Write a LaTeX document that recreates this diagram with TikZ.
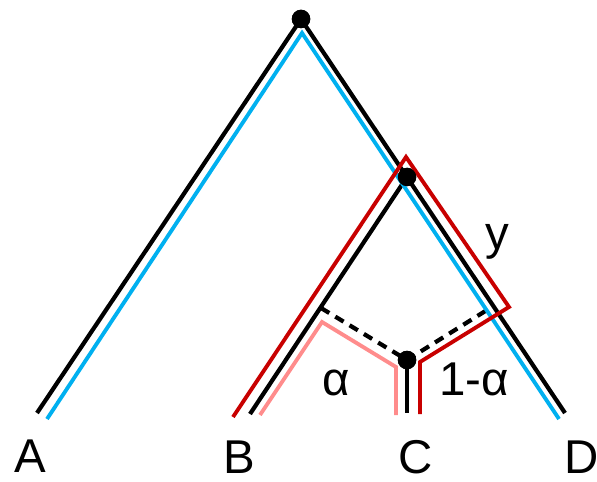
\documentclass[tikz,border=0pt]{standalone}
\usepackage{fontspec}
\setmainfont{Liberation Sans}
\definecolor{treeblue}{RGB}{0,176,240}
\definecolor{pathred}{RGB}{200,0,0}
\definecolor{pathpink}{RGB}{255,140,140}
\begin{document}
\begin{tikzpicture}[x=0.02cm, y=-0.02cm,
        edge/.style = {line width=2.4pt},
        route/.style = {line width=2.2pt},
        dot/.style = {circle, fill, inner sep=0pt, minimum size=0.37cm},
        lbl/.style = {anchor=base, inner sep=0pt, font=\fontsize{27}{30}\selectfont}]
        \useasboundingbox (0,0) rectangle (597,482);
        \node[dot] (r) at (301,19) {};
        \node[dot] (u) at (407,177) {};
        \node[dot] (h) at (407,360) {};
        \coordinate (a) at (37,413);
        \coordinate (b) at (250,414);
        \coordinate (c) at (407,413);
        \coordinate (d) at (565,413);
        \coordinate (hb) at (321,308);
        \coordinate (hd) at (487,310);
        \node[lbl] (A) at (30,472) {A};
        \node[lbl] (B) at (239,473) {B};
        \node[lbl] (C) at (416,473) {C};
        \node[lbl] (D) at (582,473) {D};
        % species tree
        \draw[edge] (a) -- (r.center) -- (d);
        \draw[edge] (u.center) -- (b);
        \draw[edge] (h.center) -- (c);
        \draw[edge, dash pattern=on 5.5pt off 4pt] (hb) -- (h.center) -- (hd);
        % gene trees
        \draw[route, treeblue] (47,419) -- (302,33) -- (559,419);
        \draw[route, pathpink] (260,415) -- (322,322) -- (396,367) -- (396,415);
        \draw[route, pathred] (233,417) -- (406,157) -- (509,307) -- (420,362) -- (420,414);
        \node[dot] at (r) {};
        \node[dot] at (u) {};
        \node[dot] at (h) {};
        \node[lbl] (y) at (497,250) {y};
        \node[lbl] (al) at (336,395) {α};
        \node[lbl] (om) at (474,395) {1-α};
\end{tikzpicture}
\end{document}
